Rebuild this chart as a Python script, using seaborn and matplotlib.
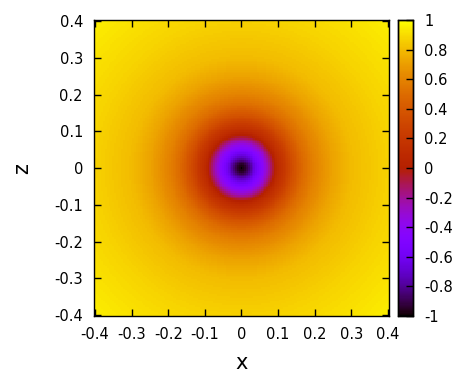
import numpy as np
import matplotlib
matplotlib.use("Agg")
import matplotlib.pyplot as plt
import seaborn as sns

# radial profile of the field (r in plot units)
r_prof = [0.0, 0.01, 0.02, 0.03, 0.04, 0.05, 0.06, 0.07, 0.08, 0.09, 0.10,
          0.12, 0.14, 0.17, 0.20, 0.25, 0.30, 0.40, 0.50, 0.57]
v_prof = [-1.0, -0.95, -0.85, -0.72, -0.6, -0.5, -0.4, -0.28, -0.14, 0.0, 0.1,
          0.22, 0.35, 0.5, 0.6, 0.72, 0.8, 0.87, 0.92, 0.95]

x_vals = np.linspace(-0.4, 0.4, 161)
z_vals = x_vals[::-1]
tick_vals = [-0.4, -0.3, -0.2, -0.1, 0, 0.1, 0.2, 0.3, 0.4]
tick_labels = ["-0.4", "-0.3", "-0.2", "-0.1", "0", "0.1", "0.2", "0.3", "0.4"]
cb_vals = [-1, -0.8, -0.6, -0.4, -0.2, 0, 0.2, 0.4, 0.6, 0.8, 1]
cb_labels = ["-1", "-0.8", "-0.6", "-0.4", "-0.2", "0", "0.2", "0.4", "0.6", "0.8", "1"]

X, Z = np.meshgrid(x_vals, z_vals)
field = np.interp(np.hypot(X, Z), r_prof, v_prof)

sns.set_style("white")
plt.rcParams["font.family"] = ["DejaVu Sans"]
plt.rcParams["axes.unicode_minus"] = False
plt.rcParams["axes.axisbelow"] = False
plt.rcParams["text.color"] = "black"
plt.rcParams["axes.labelcolor"] = "black"
plt.rcParams["xtick.color"] = "black"
plt.rcParams["ytick.color"] = "black"

fig = plt.figure(figsize=(4.66, 3.79), dpi=100)
ax = fig.add_axes([0.2017, 0.166, 0.633, 0.781])
cax = fig.add_axes([0.854, 0.166, 0.032, 0.781])

sns.heatmap(field, ax=ax, cmap="gnuplot", vmin=-1, vmax=1,
            cbar_ax=cax, xticklabels=False, yticklabels=False,
            rasterized=True)
ax.set_axisbelow(False)
cax.set_axisbelow(False)

step = x_vals[1] - x_vals[0]
ax.set_xticks([(v + 0.4) / step + 0.5 for v in tick_vals])
ax.set_xticklabels(tick_labels, rotation=0)
ax.set_yticks([(0.4 - v) / step + 0.5 for v in tick_vals])
ax.set_yticklabels(tick_labels, rotation=0)
ax.tick_params(direction="in", bottom=True, left=True, top=True, right=True,
               length=5, width=1, colors="black", labelsize=10.5, pad=8)
for s in ax.spines.values():
    s.set_visible(True)
    s.set_color("black")
    s.set_linewidth(1)
ax.set_xlabel("x", fontsize=15, labelpad=8)
ax.set_ylabel("z", fontsize=15, labelpad=16)

cax.set_yticks(cb_vals)
cax.set_yticklabels(cb_labels)
cax.tick_params(direction="in", right=True, left=False, length=5, width=1,
                colors="black", labelsize=10.5, pad=8)
for s in cax.spines.values():
    s.set_visible(True)
    s.set_color("black")
    s.set_linewidth(1)

fig.savefig("out.png", dpi=100)
